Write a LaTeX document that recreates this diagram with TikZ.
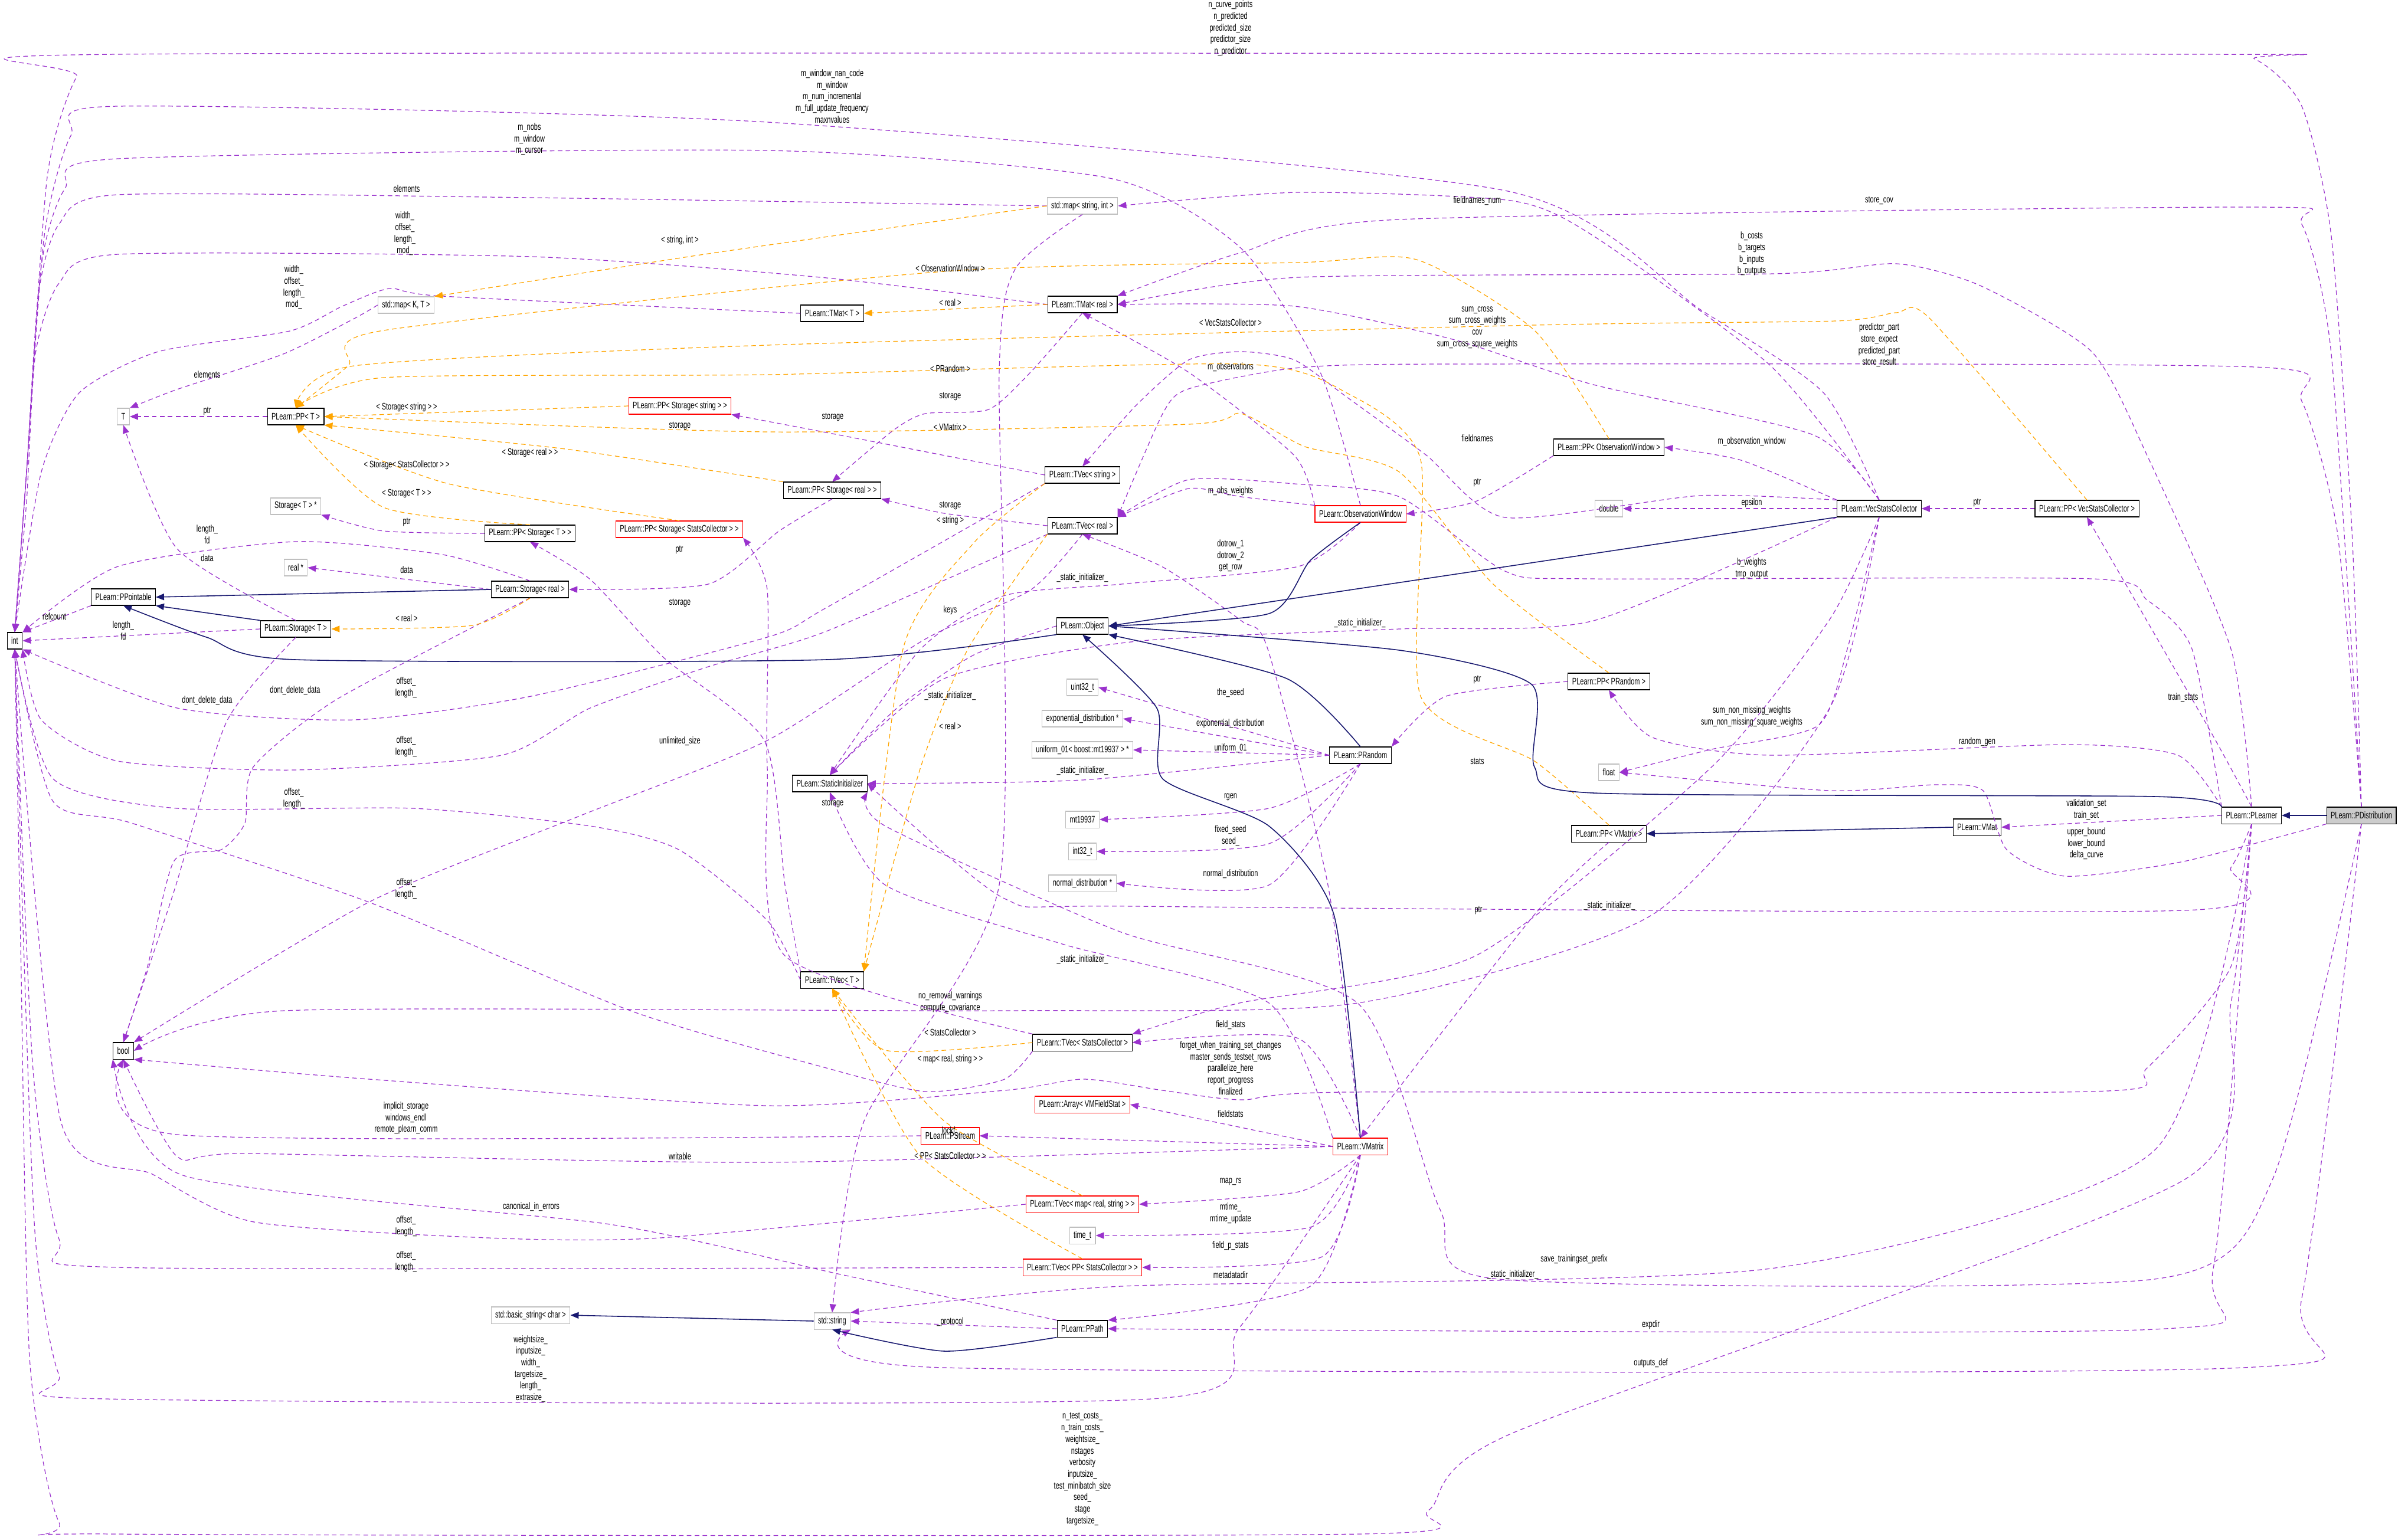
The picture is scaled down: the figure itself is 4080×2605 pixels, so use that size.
\documentclass[tikz,border=0pt]{standalone}
\usepackage{fontspec}
\setmainfont{Liberation Sans}[FakeStretch=0.68]
\usetikzlibrary{arrows.meta}
\definecolor{pur}{HTML}{9A32CD}
\definecolor{org}{HTML}{FFA500}
\definecolor{nav}{HTML}{191970}
\definecolor{gbd}{HTML}{BFBFBF}
\tikzset{
 box/.style={draw=black,line width=0.3pt,minimum height=0.28cm,inner xsep=0.07cm,inner ysep=0pt,font=\fontsize{4.6}{5.6}\selectfont,fill=white},
 rbox/.style={box,draw=red},
 gbox/.style={box,draw=gbd},
 lbl/.style={font=\fontsize{4.6}{5.6}\selectfont,align=center,inner sep=0pt},
 pe/.style={draw=pur,dashed,dash pattern=on 2.2pt off 1.6pt,line width=0.35pt,-{Triangle[length=1.4mm,width=1.1mm]}},
 oe/.style={draw=org,dashed,dash pattern=on 2.2pt off 1.6pt,line width=0.35pt,-{Triangle[length=1.4mm,width=1.1mm]}},
 ne/.style={draw=nav,line width=0.45pt,-{Triangle[length=1.4mm,width=1.1mm]}},
 sm/.style={smooth,tension=0.4}
}
\begin{document}
\begin{tikzpicture}[x=0.01cm,y=-0.01cm]
\useasboundingbox (0,0) rectangle (4080,2605);
% nodes
\node[box] (int) at (25,1086) {int};
\node[gbox] (T) at (209,706) {T};
\node[box] (ppT) at (501,706) {PLearn::PP< T >};
\node[gbox] (mapKT) at (688,517) {std::map< K, T >};
\node[rbox] (ppSstr) at (1152,688) {PLearn::PP< Storage< string > >};
\node[gbox] (StTp) at (501,858) {Storage< T > *};
\node[box] (ppST) at (898,904) {PLearn::PP< Storage< T > >};
\node[rbox] (ppSSC) at (1151,897) {PLearn::PP< Storage< StatsCollector > >};
\node[gbox] (realp) at (501,962) {real *};
\node[box] (Sreal) at (898,999) {PLearn::Storage< real >};
\node[box] (PPo) at (209,1012) {PLearn::PPointable};
\node[box] (ST) at (501,1066) {PLearn::Storage< T >};
\node[box] (tmatR) at (1834,516) {PLearn::TMat< real >};
\node[box] (tmatT) at (1410,531) {PLearn::TMat< T >};
\node[gbox] (mapSI) at (1834,349) {std::map< string, int >};
\node[box] (ppSreal) at (1410,831) {PLearn::PP< Storage< real > >};
\node[box] (tvStr) at (1834,805) {PLearn::TVec< string >};
\node[box] (tvReal) at (1834,891) {PLearn::TVec< real >};
\node[rbox] (obsW) at (2305,871) {PLearn::ObservationWindow};
\node[box] (ppObs) at (2726,758) {PLearn::PP< ObservationWindow >};
\node[gbox] (dbl) at (2726,862) {double};
\node[box] (vsc) at (3184,862) {PLearn::VecStatsCollector};
\node[box] (ppVsc) at (3536,862) {PLearn::PP< VecStatsCollector >};
\node[box] (obj) at (1834,1061) {PLearn::Object};
\node[gbox] (u32) at (1834,1165) {uint32\_t};
\node[gbox] (expd) at (1834,1218) {exponential\_distribution *};
\node[gbox] (unif) at (1834,1271) {uniform\_01< boost::mt19937 > *};
\node[box] (sinit) at (1406,1328) {PLearn::StaticInitializer};
\node[box] (prand) at (2305,1280) {PLearn::PRandom};
\node[gbox] (mt) at (1834,1389) {mt19937};
\node[gbox] (i32) at (1834,1443) {int32\_t};
\node[gbox] (normd) at (1834,1497) {normal\_distribution *};
\node[box] (tvT) at (1410,1661) {PLearn::TVec< T >};
\node[box] (tvSC) at (1834,1767) {PLearn::TVec< StatsCollector >};
\node[rbox] (arrVM) at (1834,1872) {PLearn::Array< VMFieldStat >};
\node[rbox] (pstr) at (1610,1925) {PLearn::PStream};
\node[rbox] (vmx) at (2305,1943) {PLearn::VMatrix};
\node[box] (ppPR) at (2726,1155) {PLearn::PP< PRandom >};
\node[gbox] (flt) at (2726,1309) {float};
\node[box] (ppVM) at (2726,1413) {PLearn::PP< VMatrix >};
\node[box] (vmat) at (3350,1402) {PLearn::VMat};
\node[box] (plr) at (3815,1382) {PLearn::PLearner};
\node[box,fill=gbd!80] (pdist) at (4001,1382) {PLearn::PDistribution};
\node[box] (bool) at (209,1781) {bool};
\node[rbox] (tvMap) at (1834,2041) {PLearn::TVec< map< real, string > >};
\node[gbox] (timet) at (1834,2094) {time\_t};
\node[rbox] (tvPPSC) at (1834,2148) {PLearn::TVec< PP< StatsCollector > >};
\node[gbox] (bstr) at (899,2229) {std::basic\_string< char >};
\node[gbox] (sstr) at (1410,2239) {std::string};
\node[box] (ppath) at (1834,2252) {PLearn::PPath};

% purple edges
\draw[pe] plot[sm] coordinates {(pdist.north) (3985,900) (3950,400) (3900,180) (3820,100) (3700,92) (200,92) (130,130) (80,300) (45,800) (int.north)};
\draw[pe] plot[sm] coordinates {(vsc.north) (3090,666) (2883,526) (2550,323) (1300,207) (200,180) (120,230) (75,400) (45,800) (int.north)};
\draw[pe] plot[sm] coordinates {(obsW.north) (2237,631) (2103,421) (1880,302) (1300,255) (200,269) (110,320) (70,450) (45,800) (int.north)};
\draw[pe] plot[sm] coordinates {(mapSI.west) (900,335) (200,330) (100,380) (65,500) (45,800) (int.north)};
\draw[pe] plot[sm] coordinates {(tmatR.west) (1390,470) (900,435) (200,431) (100,480) (60,600) (45,850) (int.north)};
\draw[pe] plot[sm] coordinates {(tmatT.west) (750,502) (660,489) (580,519) (491,561) (268,596) (134,666) (70,800) (int.north)};
\draw[pe] plot[sm] coordinates {(mapKT.west) (600,540) (480,600) (300,660) (T.north east)};
\draw[pe] (ppT.west) -- (T.east);
\draw[pe] plot[sm] coordinates {(tvStr.west) (1400,733) (ppSstr.south east)};
\draw[pe] plot[sm] coordinates {(tvReal.west) (1600,870) (ppSreal.south east)};
\draw[pe] plot[sm] coordinates {(tmatR.south) (1746,631) (1675,694) (1568,701) (1514,729) (ppSreal.north)};
\draw[pe] plot[sm] coordinates {(ppST.west) (650,900) (StTp.south east)};
\draw[pe] plot[sm] coordinates {(ppSreal.south) (1320,900) (1200,990) (Sreal.east)};
\draw[pe] plot[sm] coordinates {(tvT.north west) (1330,1500) (1295,1255) (1125,1115) (1000,982) (ppST.south)};
\draw[pe] plot[sm] coordinates {(tvSC.north west) (1330,1620) (1300,1300) (1300,1000) (ppSSC.south east)};
\draw[pe] (Sreal.west) -- (realp.east);
\draw[pe] plot[sm] coordinates {(ST.north) (300,930) (T.south)};
\draw[pe] (PPo.south west) -- (int.north east);
\draw[pe] (ST.west) -- (int.east);
\draw[pe] plot[sm] coordinates {(Sreal.north) (750,940) (500,918) (200,960) (int.north east)};
\draw[pe] plot[sm] coordinates {(ST.south) (384,1223) (295,1510) (bool.north)};
\draw[pe] plot[sm] coordinates {(Sreal.south) (571,1185) (429,1300) (415,1395) (375,1440) (295,1459) (250,1638) (bool.north)};
\draw[pe] plot[sm] coordinates {(tvStr.south west) (1400,1030) (1300,1080) (900,1180) (600,1220) (300,1200) (int.south east)};
\draw[pe] plot[sm] coordinates {(tvReal.south west) (1400,1070) (1200,1130) (1000,1200) (850,1280) (500,1305) (200,1290) (70,1220) (int.south east)};
\draw[pe] plot[sm] coordinates {(tvT.west) (1300,1560) (1150,1440) (1000,1400) (700,1370) (300,1370) (90,1320) (int.south)};
\draw[pe] plot[sm] coordinates {(tvSC.south west) (1700,1830) (1568,1850) (1400,1810) (1071,1714) (625,1529) (223,1395) (89,1357) (int.south)};
\draw[pe] plot[sm] coordinates {(tvReal.south) (1746,1000) (1568,1083) (1300,1255) (982,1383) (625,1529) (bool.north east)};
\draw[pe] plot[sm] coordinates {(vsc.south) (3100,1200) (2800,1550) (2300,1700) (1700,1713) (482,1713) (bool.east)};
\draw[pe] plot[sm] coordinates {(plr.south) (3780,1638) (3638,1810) (3544,1850) (2282,1851) (2103,1864) (1970,1848) (1836,1829) (1702,1848) (1300,1874) (625,1829) (bool.south east)};
\draw[pe] plot[sm] coordinates {(pstr.west) (300,1923) (bool.south)};
\draw[pe] plot[sm] coordinates {(vmx.west) (1300,1970) (420,1955) (300,1960) (bool.south)};
\draw[pe] plot[sm] coordinates {(ppath.north west) (1429,2161) (1033,2075) (310,1992) (bool.south west)};
\draw[pe] plot[sm] coordinates {(tvMap.west) (1119,2098) (827,2098) (430,2071) (258,1990) (103,1900) (int.south)};
\draw[pe] plot[sm] coordinates {(tvPPSC.west) (200,2148) (100,2100) (55,1800) (int.south)};
\draw[pe] plot[sm] coordinates {(vmx.south) (2100,2250) (1950,2371) (180,2371) (100,2330) (60,2100) (40,1600) (int.south)};
\draw[pe] plot[sm] coordinates {(plr.south) (3780,1700) (3700,2000) (2560,2430) (2420,2560) (2300,2600) (200,2600) (100,2580) (50,2300) (35,1600) (int.south)};
\draw[pe] plot[sm] coordinates {(plr.south) (3650,1950) (3000,2150) (1900,2180) (sstr.north east)};
\draw[pe] plot[sm] coordinates {(plr.south) (3750,2150) (3650,2253) (ppath.east)};
\draw[pe] plot[sm] coordinates {(pdist.south) (3900,2200) (3800,2318) (1600,2318) (sstr.south east)};
\draw[pe] plot[sm] coordinates {(pdist.south) (3850,2000) (3650,2168) (2540,2168) (2440,2050) (2300,1700) (1900,1580) (1500,1400) (sinit.south east)};
\draw[pe] plot[sm] coordinates {(plr.south) (3780,1470) (3700,1543) (1925,1536) (1702,1523) (sinit.east)};
\draw[pe] plot[sm] coordinates {(ppVM.south) (2600,1550) (vmx.north)};
\draw[pe] plot[sm] coordinates {(pdist.north) (3950,600) (3900,380) (3820,351) (2371,372) (2103,428) (tmatR.north east)};
\draw[pe] plot[sm] coordinates {(plr.north) (3780,1100) (3638,772) (3544,596) (3355,484) (3213,447) (3006,464) (2200,470) (tmatR.east)};
\draw[pe] plot[sm] coordinates {(vsc.north) (3072,737) (2700,652) (2461,575) (2193,519) (tmatR.east)};
\draw[pe] plot[sm] coordinates {(pdist.north) (3960,900) (3900,680) (3820,622) (2461,617) (2193,624) (2014,659) (1970,701) (tvReal.north east)};
\draw[pe] plot[sm] coordinates {(vsc.north) (3000,620) (2700,400) (2560,340) (2200,326) (mapSI.east)};
\draw[pe] plot[sm] coordinates {(obsW.north west) (2193,772) (2014,631) (tmatR.south)};
\draw[pe] plot[sm] coordinates {(vsc.north west) (2880,840) (2550,877) (2416,771) (2282,673) (2193,610) (2103,596) (2014,610) (1925,687) (tvStr.north)};
\draw[pe] plot[sm] coordinates {(obsW.north west) (2103,842) (2014,828) (tvReal.north east)};
\draw[pe] plot[sm] coordinates {(vsc.north west) (2950,780) (ppObs.east)};
\draw[pe] (vsc.west) -- (dbl.east);
\draw[pe] (ppVsc.west) -- (vsc.east);
\draw[pe] plot[sm] coordinates {(ppObs.south west) (2500,850) (obsW.east)};
\draw[pe] plot[sm] coordinates {(plr.north) (3740,1230) (ppVsc.south)};
\draw[pe] plot[sm] coordinates {(vsc.south) (3130,1100) (3080,1230) (2900,1270) (flt.east)};
\draw[pe] plot[sm] coordinates {(plr.north west) (3714,1100) (3638,1017) (3544,981) (2694,981) (2550,968) (2371,842) (2193,820) (2014,813) (tvReal.north east)};
\draw[pe] plot[sm] coordinates {(vsc.south) (3100,1050) (2900,1300) (2500,1620) (2100,1700) (tvSC.north east)};
\draw[pe] plot[sm] coordinates {(vsc.south west) (2700,1052) (2371,1066) (1925,1087) (1600,1150) (sinit.north)};
\draw[pe] plot[sm] coordinates {(obj.west) (1650,1110) (1520,1200) (sinit.north)};
\draw[pe] plot[sm] coordinates {(obsW.south) (2200,960) (1900,990) (1700,1010) (1560,1100) (sinit.north)};
\draw[pe] plot[sm] coordinates {(vmx.north) (2250,1500) (2148,1100) (2103,1052) (1970,961) (tvReal.south)};
\draw[pe] (prand.west) -- (u32.east);
\draw[pe] (prand.west) -- (expd.east);
\draw[pe] (prand.west) -- (unif.east);
\draw[pe] plot[sm] coordinates {(prand.west) (1834,1322) (sinit.east)};
\draw[pe] plot[sm] coordinates {(prand.south) (2150,1370) (mt.east)};
\draw[pe] plot[sm] coordinates {(prand.south) (2150,1430) (i32.east)};
\draw[pe] plot[sm] coordinates {(prand.south) (2150,1500) (normd.east)};
\draw[pe] plot[sm] coordinates {(ppPR.west) (2450,1180) (prand.north east)};
\draw[pe] plot[sm] coordinates {(plr.north west) (3690,1280) (3500,1262) (3000,1280) (2800,1250) (ppPR.south)};
\draw[pe] plot[sm] coordinates {(pdist.south west) (3700,1460) (3500,1485) (3400,1440) (3360,1340) (3280,1330) (3100,1340) (flt.east)};
\draw[pe] (plr.west) -- (vmat.east);
\draw[pe] plot[sm] coordinates {(vmx.north) (2200,1760) (tvSC.east)};
\draw[pe] (vmx.west) -- (arrVM.east);
\draw[pe] (vmx.west) -- (pstr.east);
\draw[pe] plot[sm] coordinates {(vmx.south) (2200,2020) (tvMap.east)};
\draw[pe] plot[sm] coordinates {(vmx.south) (2220,2080) (timet.east)};
\draw[pe] plot[sm] coordinates {(vmx.south) (2240,2130) (tvPPSC.east)};
\draw[pe] plot[sm] coordinates {(vmx.south) (2220,2180) (ppath.north east)};
\draw[pe] plot[sm] coordinates {(vmx.north west) (2150,1700) (1800,1600) (1500,1500) (sinit.south)};
\draw[pe] plot[sm] coordinates {(mapSI.south) (1720,456) (1693,631) (1693,1500) (1464,1900) (sstr.north)};
\draw[pe] (ppath.west) -- (sstr.east);

% orange edges
\draw[oe] plot[sm] coordinates {(mapSI.west) (1200,430) (mapKT.north east)};
\draw[oe] (tmatR.west) -- (tmatT.east);
\draw[oe] plot[sm] coordinates {(ppObs.north) (2600,560) (2400,440) (2200,445) (1600,460) (650,560) (590,620) (ppT.north)};
\draw[oe] plot[sm] coordinates {(ppVsc.north) (3270,540) (3213,530) (3110,544) (2600,551) (1300,585) (600,620) (ppT.north)};
\draw[oe] plot[sm] coordinates {(ppPR.north) (2530,990) (2371,800) (2211,757) (2103,701) (2014,719) (1300,732) (ppT.east)};
\draw[oe] plot[sm] coordinates {(ppVM.north) (2600,1290) (2407,1180) (2407,779) (2282,666) (2103,617) (1300,635) (650,640) (ppT.north)};
\draw[oe] (ppSstr.west) -- (ppT.east);
\draw[oe] plot[sm] coordinates {(ppSreal.north west) (950,760) (ppT.south east)};
\draw[oe] plot[sm] coordinates {(ppSSC.north) (760,820) (ppT.south)};
\draw[oe] plot[sm] coordinates {(ppST.north) (650,860) (ppT.south)};
\draw[oe] plot[sm] coordinates {(Sreal.south) (800,1060) (ST.east)};
\draw[oe] plot[sm] coordinates {(tvReal.south west) (1640,1100) (1560,1300) (tvT.north east)};
\draw[oe] plot[sm] coordinates {(tvStr.south west) (1650,920) (1530,1100) (tvT.north east)};
\draw[oe] plot[sm] coordinates {(tvSC.west) (1500,1780) (tvT.south)};
\draw[oe] plot[sm] coordinates {(tvMap.north) (1600,1900) (tvT.south)};
\draw[oe] plot[sm] coordinates {(tvPPSC.north) (1560,1960) (tvT.south)};

% navy inheritance
\draw[ne] (Sreal.west) -- (PPo.east);
\draw[ne] (ST.north west) -- (PPo.south east);
\draw[ne] plot[sm] coordinates {(obj.south west) (1400,1118) (500,1118) (350,1080) (PPo.south)};
\draw[ne] plot[sm] coordinates {(obsW.south) (2220,950) (2150,1040) (obj.east)};
\draw[ne] (vsc.south west) -- (obj.east);
\draw[ne] plot[sm] coordinates {(prand.north) (2180,1150) (obj.south east)};
\draw[ne] plot[sm] coordinates {(vmx.north) (2260,1550) (2150,1400) (1970,1320) (1960,1200) (obj.south)};
\draw[ne] plot[sm] coordinates {(plr.north west) (3650,1350) (2700,1344) (2600,1300) (2595,1160) (2371,1102) (obj.east)};
\draw[ne] (pdist.west) -- (plr.east);
\draw[ne] (vmat.west) -- (ppVM.east);
\draw[ne] plot[sm] coordinates {(ppath.south west) (1600,2290) (sstr.south)};
\draw[ne] (sstr.west) -- (bstr.east);

% labels
\node[lbl] at (2085,48) {n\_curve\_points\\n\_predicted\\predicted\_size\\predictor\_size\\n\_predictor};
\node[lbl] at (1410,163) {m\_window\_nan\_code\\m\_window\\m\_num\_incremental\\m\_full\_update\_frequency\\maxnvalues};
\node[lbl] at (897,236) {m\_nobs\\m\_window\\m\_cursor};
\node[lbl] at (689,320) {elements};
\node[lbl] at (686,396) {width\_\\offset\_\\length\_\\mod\_};
\node[lbl] at (498,487) {width\_\\offset\_\\length\_\\mod\_};
\node[lbl] at (351,635) {elements};
\node[lbl] at (351,697) {ptr};
\node[lbl] at (1152,407) {< string, int >};
\node[lbl] at (1610,513) {< real >};
\node[lbl] at (1610,455) {< ObservationWindow >};
\node[lbl] at (2085,547) {< VecStatsCollector >};
\node[lbl] at (1610,625) {< PRandom >};
\node[lbl] at (1610,724) {< VMatrix >};
\node[lbl] at (689,690) {< Storage< string > >};
\node[lbl] at (898,767) {< Storage< real > >};
\node[lbl] at (689,788) {< Storage< StatsCollector > >};
\node[lbl] at (689,837) {< Storage< T > >};
\node[lbl] at (689,1048) {< real >};
\node[lbl] at (1152,722) {storage};
\node[lbl] at (1411,707) {storage};
\node[lbl] at (1610,672) {storage};
\node[lbl] at (1610,857) {storage};
\node[lbl] at (1152,1022) {storage};
\node[lbl] at (1411,1362) {storage};
\node[lbl] at (689,885) {ptr};
\node[lbl] at (1151,932) {ptr};
\node[lbl] at (351,946) {data};
\node[lbl] at (689,966) {data};
\node[lbl] at (92,1045) {refcount};
\node[lbl] at (209,1069) {length\_\\fd};
\node[lbl] at (351,906) {length\_\\fd};
\node[lbl] at (351,1187) {dont\_delete\_data};
\node[lbl] at (500,1170) {dont\_delete\_data};
\node[lbl] at (688,1165) {offset\_\\length\_};
\node[lbl] at (688,1265) {offset\_\\length\_};
\node[lbl] at (498,1353) {offset\_\\length\_};
\node[lbl] at (688,1506) {offset\_\\length\_};
\node[lbl] at (1152,1256) {unlimited\_size};
\node[lbl] at (1610,1698) {no\_removal\_warnings\\compute\_covariance};
\node[lbl] at (2085,1810) {forget\_when\_training\_set\_changes\\master\_sends\_testset\_rows\\parallelize\_here\\report\_progress\\finalized};
\node[lbl] at (688,1895) {implicit\_storage\\windows\_endl\\remote\_plearn\_comm};
\node[lbl] at (1152,1960) {writable};
\node[lbl] at (900,2045) {canonical\_in\_errors};
\node[lbl] at (688,2078) {offset\_\\length\_};
\node[lbl] at (688,2138) {offset\_\\length\_};
\node[lbl] at (899,2320) {weightsize\_\\inputsize\_\\width\_\\targetsize\_\\length\_\\extrasize\_};
\node[lbl] at (1834,2490) {n\_test\_costs\_\\n\_train\_costs\_\\weightsize\_\\nstages\\verbosity\\inputsize\_\\test\_minibatch\_size\\seed\_\\stage\\targetsize\_};
\node[lbl] at (2667,2134) {save\_trainingset\_prefix};
\node[lbl] at (2797,2245) {expdir};
\node[lbl] at (2797,2310) {outputs\_def};
\node[lbl] at (2563,2160) {\_static\_initializer\_};
\node[lbl] at (2727,1535) {\_static\_initializer\_};
\node[lbl] at (2505,1543) {ptr};
\node[lbl] at (3184,340) {store\_cov};
\node[lbl] at (2968,430) {b\_costs\\b\_targets\\b\_inputs\\b\_outputs};
\node[lbl] at (2503,555) {sum\_cross\\sum\_cross\_weights\\cov\\sum\_cross\_square\_weights};
\node[lbl] at (3184,585) {predictor\_part\\store\_expect\\predicted\_part\\store\_result};
\node[lbl] at (2503,340) {fieldnames\_num};
\node[lbl] at (2085,622) {m\_observations};
\node[lbl] at (2503,743) {fieldnames};
\node[lbl] at (2085,832) {m\_obs\_weights};
\node[lbl] at (2968,748) {m\_observation\_window};
\node[lbl] at (2968,852) {epsilon};
\node[lbl] at (3350,852) {ptr};
\node[lbl] at (2503,818) {ptr};
\node[lbl] at (3699,1182) {train\_stats};
\node[lbl] at (2968,1214) {sum\_non\_missing\_weights\\sum\_non\_missing\_square\_weights};
\node[lbl] at (2968,963) {b\_weights\\tmp\_output};
\node[lbl] at (2503,1290) {stats};
\node[lbl] at (2304,1056) {\_static\_initializer\_};
\node[lbl] at (1610,1179) {\_static\_initializer\_};
\node[lbl] at (1834,979) {\_static\_initializer\_};
\node[lbl] at (2085,942) {dotrow\_1\\dotrow\_2\\get\_row};
\node[lbl] at (2085,1174) {the\_seed};
\node[lbl] at (2085,1226) {exponential\_distribution};
\node[lbl] at (2085,1268) {uniform\_01};
\node[lbl] at (1834,1306) {\_static\_initializer\_};
\node[lbl] at (2085,1351) {rgen};
\node[lbl] at (2085,1416) {fixed\_seed\\seed\_};
\node[lbl] at (2085,1481) {normal\_distribution};
\node[lbl] at (2503,1152) {ptr};
\node[lbl] at (3350,1257) {random\_gen};
\node[lbl] at (3535,1430) {upper\_bound\\lower\_bound\\delta\_curve};
\node[lbl] at (3535,1372) {validation\_set\\train\_set};
\node[lbl] at (2085,1737) {field\_stats};
\node[lbl] at (2085,1888) {fieldstats};
\node[lbl] at (1610,1917) {lockf\_};
\node[lbl] at (2085,2003) {map\_rs};
\node[lbl] at (2085,2056) {mtime\_\\mtime\_update};
\node[lbl] at (2085,2111) {field\_p\_stats};
\node[lbl] at (2085,2161) {metadatadir};
\node[lbl] at (1834,1626) {\_static\_initializer\_};
\node[lbl] at (1610,1034) {keys};
\node[lbl] at (1610,2240) {\_protocol};
\node[lbl] at (1610,1231) {< real >};
\node[lbl] at (1610,882) {< string >};
\node[lbl] at (1610,1750) {< StatsCollector >};
\node[lbl] at (1610,1795) {< map< real, string > >};
\node[lbl] at (1610,1959) {< PP< StatsCollector > >};
\end{tikzpicture}
\end{document}
